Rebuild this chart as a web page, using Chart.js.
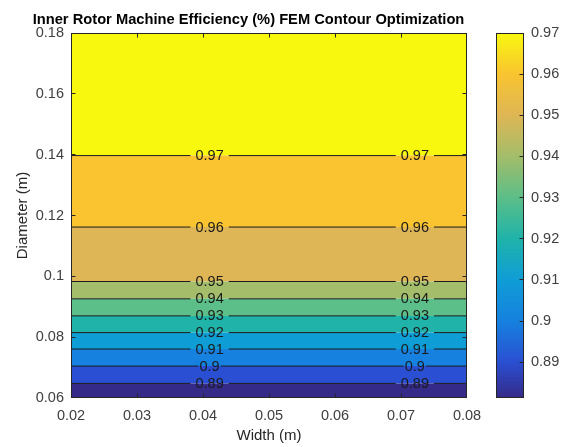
<!DOCTYPE html>
<html><head><meta charset="utf-8">
<script src="https://cdn.jsdelivr.net/npm/chart.js@4"></script>
<style>
html,body{margin:0;padding:0;background:#fff;}
#wrap{position:relative;width:566px;height:447px;overflow:hidden;background:#fff;}
#main{position:absolute;left:0;top:0;}
#cbar{position:absolute;left:480px;top:0;}
</style></head><body>
<div id="wrap">
<canvas id="main" width="566" height="447"></canvas>
<canvas id="cbar" width="86" height="447"></canvas>
</div>
<script>
const titleText = 'Inner Rotor Machine Efficiency (%) FEM Contour Optimization';
const xAxisTitle = 'Width (m)';
const yAxisTitle = 'Diameter (m)';
const widthRange = [0.02, 0.08];
const diameterRange = [0.06, 0.18];
const widthTicks = [0.02, 0.03, 0.04, 0.05, 0.06, 0.07, 0.08];
const diameterTicks = [0.06, 0.08, 0.1, 0.12, 0.14, 0.16, 0.18];
const contourLevels = [0.89, 0.90, 0.91, 0.92, 0.93, 0.94, 0.95, 0.96, 0.97];
const contourDiameters = [0.0648, 0.0705, 0.0761, 0.0815, 0.0870, 0.0926, 0.0983, 0.1162, 0.1397];
const labelWidths = [0.0410, 0.0721];
const efficiencyRange = [0.8813, 0.97];
const colorbarTicks = [0.89, 0.90, 0.91, 0.92, 0.93, 0.94, 0.95, 0.96, 0.97];
const bandColors = ['#352A87', '#2A4FD2', '#1681DF', '#0F9DD6', '#1FB3AA', '#5CBE88', '#A3BD6A', '#DEB655', '#F9C430', '#F8F80F'];

const FONT = "'Liberation Sans', Arial, sans-serif";
Chart.defaults.font.family = FONT;
const fmt = v => String(parseFloat(Number(v).toFixed(4)));
const AXIS_COLOR = '#262626';
const TICK_COLOR = '#404040';
const TICK_SIZE = 14.5;

// ---------- main contour chart ----------
const boundaries = [diameterRange[0], ...contourDiameters, diameterRange[1]];
const datasets = [];
boundaries.forEach((d, i) => {
  datasets.push({
    data: [{x: widthRange[0], y: d}, {x: widthRange[1], y: d}],
    fill: i === 0 ? false : '-1',
    backgroundColor: i === 0 ? 'transparent' : bandColors[i - 1],
    borderColor: 'transparent',
    borderWidth: 0,
    pointRadius: 0,
    order: 2
  });
});
const gapHalf = lbl => lbl.length > 3 ? 0.0029 : 0.0017;
contourLevels.forEach((lv, i) => {
  const d = contourDiameters[i];
  const h = gapHalf(fmt(lv));
  const pts = [{x: widthRange[0], y: d}];
  labelWidths.forEach(w => {
    pts.push({x: w - h, y: d});
    pts.push({x: w, y: null});
    pts.push({x: w + h, y: d});
  });
  pts.push({x: widthRange[1], y: d});
  datasets.push({
    data: pts, fill: false, borderColor: '#1c1c1c', borderWidth: 1,
    pointRadius: 0, spanGaps: false, order: 1
  });
});

const mainDecor = {
  id: 'mainDecor',
  afterDatasetsDraw(chart) {
    const {ctx, scales: {x, y}} = chart;
    ctx.save();
    ctx.font = TICK_SIZE + 'px ' + FONT;
    ctx.fillStyle = '#1a1a1a';
    ctx.textAlign = 'center';
    ctx.textBaseline = 'middle';
    contourLevels.forEach((lv, i) => {
      labelWidths.forEach(w => {
        ctx.fillText(fmt(lv), x.getPixelForValue(w), y.getPixelForValue(contourDiameters[i]) + 0.5);
      });
    });
    ctx.restore();
  },
  afterDraw(chart) {
    const {ctx, chartArea: a, scales: {x, y}} = chart;
    ctx.save();
    ctx.strokeStyle = AXIS_COLOR;
    ctx.lineWidth = 1;
    const L = Math.round(a.left) + 0.5, R = Math.round(a.right) - 0.5;
    const T = Math.round(a.top) + 0.5, B = Math.round(a.bottom) - 0.5;
    const clamp = (v, lo, hi) => Math.min(Math.max(v, lo), hi);
    ctx.strokeRect(L, T, R - L, B - T);
    const tl = 4;
    ctx.beginPath();
    widthTicks.forEach(v => {
      const px = clamp(Math.floor(x.getPixelForValue(v)) + 0.5, L, R);
      ctx.moveTo(px, B); ctx.lineTo(px, B - tl);
      ctx.moveTo(px, T); ctx.lineTo(px, T + tl);
    });
    diameterTicks.forEach(v => {
      const py = clamp(Math.floor(y.getPixelForValue(v)) + 0.5, T, B);
      ctx.moveTo(L, py); ctx.lineTo(L + tl, py);
      ctx.moveTo(R, py); ctx.lineTo(R - tl, py);
    });
    ctx.stroke();
    ctx.font = 'bold 14.7px ' + FONT;
    ctx.fillStyle = '#000';
    ctx.textAlign = 'center';
    ctx.textBaseline = 'middle';
    ctx.fillText(titleText, 248.5, 20);
    ctx.restore();
  }
};

new Chart(document.getElementById('main'), {
  type: 'line',
  data: {datasets},
  options: {
    responsive: false, animation: false, devicePixelRatio: 1,
    layout: {padding: {left: 0, top: 33, right: 99, bottom: 0}},
    plugins: {legend: {display: false}, tooltip: {enabled: false}, title: {display: false}},
    scales: {
      x: {
        type: 'linear', min: widthRange[0], max: widthRange[1],
        afterBuildTicks: s => { s.ticks = widthTicks.map(v => ({value: v})); },
        afterFit: s => { s.height = 49; },
        ticks: {callback: v => fmt(v), color: TICK_COLOR, font: {size: TICK_SIZE}, padding: 9, maxRotation: 0, autoSkip: false},
        grid: {display: false, drawTicks: false},
        border: {display: false},
        title: {display: true, text: xAxisTitle, color: AXIS_COLOR, font: {size: 15}, padding: {top: 0, bottom: 2}}
      },
      y: {
        type: 'linear', min: diameterRange[0], max: diameterRange[1],
        afterBuildTicks: s => { s.ticks = diameterTicks.map(v => ({value: v})); },
        afterFit: s => { s.width = 71; },
        ticks: {callback: v => fmt(v), color: TICK_COLOR, font: {size: TICK_SIZE}, padding: 7, autoSkip: false},
        grid: {display: false, drawTicks: false},
        border: {display: false},
        title: {display: true, text: yAxisTitle, color: AXIS_COLOR, font: {size: 15}, padding: {top: 14, bottom: 0}}
      }
    }
  },
  plugins: [mainDecor]
});

// ---------- colorbar ----------
const colorStops = [{v: efficiencyRange[0], c: bandColors[0]}]
  .concat(contourLevels.map((v, i) => ({v, c: bandColors[i + 1]})));

const cbarDecor = {
  id: 'cbarDecor',
  afterDraw(chart) {
    const {ctx, chartArea: a, scales: {y}} = chart;
    ctx.save();
    ctx.strokeStyle = AXIS_COLOR;
    ctx.lineWidth = 1;
    const L = Math.round(a.left) + 0.5, R = Math.round(a.right) - 0.5;
    const T = Math.round(a.top) + 0.5, B = Math.round(a.bottom) - 0.5;
    ctx.strokeRect(L, T, R - L, B - T);
    ctx.beginPath();
    colorbarTicks.forEach(v => {
      const py = Math.min(Math.max(Math.floor(y.getPixelForValue(v)) + 0.5, T), B);
      ctx.moveTo(R, py); ctx.lineTo(R - 4, py);
    });
    ctx.stroke();
    ctx.restore();
  }
};

new Chart(document.getElementById('cbar'), {
  type: 'bar',
  data: {
    labels: [''],
    datasets: [{
      data: [efficiencyRange],
      barPercentage: 1, categoryPercentage: 1, borderWidth: 0,
      backgroundColor: (c) => {
        const chart = c.chart;
        const ys = chart.scales.y;
        if (!chart.chartArea || !ys) return bandColors[0];
        const y0 = ys.getPixelForValue(efficiencyRange[0]);
        const y1 = ys.getPixelForValue(efficiencyRange[1]);
        const g = chart.ctx.createLinearGradient(0, y0, 0, y1);
        colorStops.forEach(s => {
          g.addColorStop((s.v - efficiencyRange[0]) / (efficiencyRange[1] - efficiencyRange[0]), s.c);
        });
        return g;
      }
    }]
  },
  options: {
    responsive: false, animation: false, devicePixelRatio: 1,
    layout: {padding: {left: 16, top: 33, right: 0, bottom: 49}},
    plugins: {legend: {display: false}, tooltip: {enabled: false}},
    scales: {
      x: {display: false},
      y: {
        position: 'right', min: efficiencyRange[0], max: efficiencyRange[1],
        afterBuildTicks: s => { s.ticks = colorbarTicks.map(v => ({value: v})); },
        afterFit: s => { s.width = 42; },
        ticks: {callback: v => fmt(v), color: TICK_COLOR, font: {size: TICK_SIZE}, padding: 7, autoSkip: false},
        grid: {display: false, drawTicks: false},
        border: {display: false}
      }
    }
  },
  plugins: [cbarDecor]
});
</script>
</body></html>
